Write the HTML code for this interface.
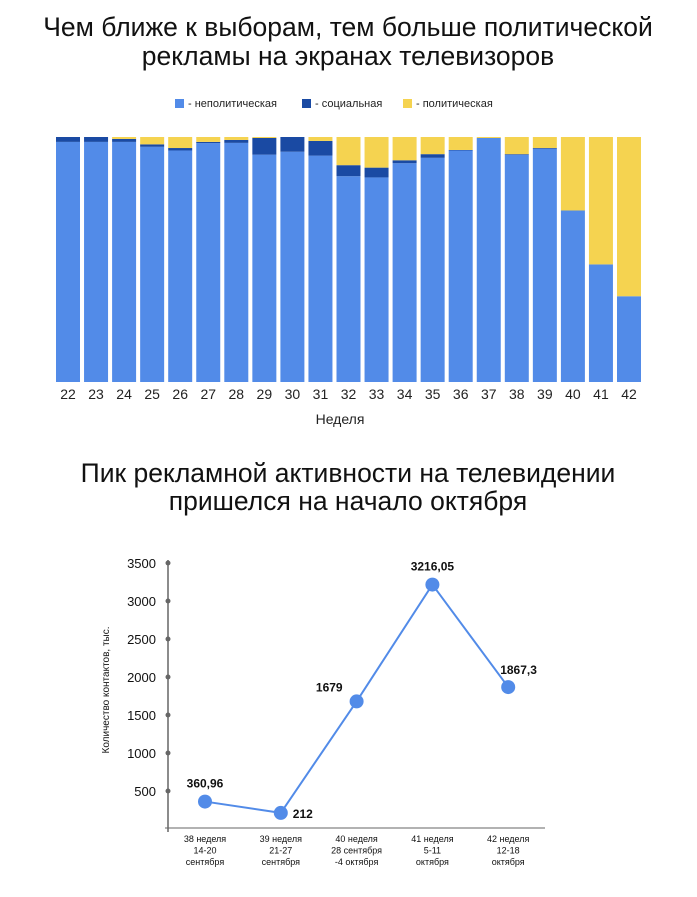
<!DOCTYPE html>
<html><head><meta charset="utf-8"><style>
body{margin:0;background:#fff;font-family:"Liberation Sans","DejaVu Sans",sans-serif;}
svg text{font-family:"Liberation Sans","DejaVu Sans",sans-serif;}
</style></head><body>
<svg id="c" width="697" height="892">
<text x="348" y="36" font-size="26.5" text-anchor="middle" fill="#111">Чем ближе к выборам, тем больше политической</text>
<text x="348" y="65" font-size="26.5" text-anchor="middle" fill="#111">рекламы на экранах телевизоров</text>
<g id="legend">
<rect x="175" y="99" width="9" height="9" fill="#528BE8"/>
<text x="188" y="107" font-size="11" fill="#222">- неполитическая</text>
<rect x="302" y="99" width="9" height="9" fill="#1A4AA3"/>
<text x="315" y="107" font-size="11" fill="#222">- социальная</text>
<rect x="403" y="99" width="9" height="9" fill="#F5D350"/>
<text x="416" y="107" font-size="11" fill="#222">- политическая</text>
</g>
<g id="bars"></g>
<text x="340" y="424" font-size="14" text-anchor="middle" fill="#222">Неделя</text>
<text x="348" y="482" font-size="26.5" text-anchor="middle" fill="#111">Пик рекламной активности на телевидении</text>
<text x="348" y="510" font-size="26.5" text-anchor="middle" fill="#111">пришелся на начало октября</text>
<g id="line"></g>
<text transform="translate(109,690) rotate(-90)" font-size="10" text-anchor="middle" fill="#111">Количество контактов, тыс.</text>
</svg>
<script>
const weeks=[22,23,24,25,26,27,28,29,30,31,32,33,34,35,36,37,38,39,40,41,42];
const political=[0,0,0.8,3,4.5,2,1.2,0.4,0,1.6,11.5,12.5,9.5,7,5.3,0.4,7,4.5,30,52,65];
const social=[2,2,1.2,1,1,0.5,1.2,6.8,6,6,4.5,4,1.2,1.5,0.2,0,0.3,0.3,0,0,0];
const lineCats=[["38 неделя","14-20","сентября"],["39 неделя","21-27","сентября"],["40 неделя","28 сентября","-4 октября"],["41 неделя","5-11","октября"],["42 неделя","12-18","октября"]];
const lineVals=[360.96,212,1679,3216.05,1867.3];
const lineLabels=["360,96","212","1679","3216,05","1867,3"];
const yTicks=[500,1000,1500,2000,2500,3000,3500];
const NS="http://www.w3.org/2000/svg";
function mk(t,a,p){const e=document.createElementNS(NS,t);for(const k in a)e.setAttribute(k,a[k]);p.appendChild(e);return e;}
const bg=document.getElementById('bars');
const top0=137,bot0=382,H=bot0-top0;
const bx=i=>56+i*28.05;
const py=p=>top0+p/100*H;
weeks.forEach((w,i)=>{
 const x=bx(i);
 const yP=py(political[i]),yS=py(political[i]+social[i]);
 let r=mk('rect',{x:x,y:yS,width:24,height:bot0-yS,fill:'#528BE8'},bg);
 
 
 r=mk('rect',{x:x,y:yP,width:24,height:yS-yP,fill:'#1A4AA3'},bg);
 
 
 r=mk('rect',{x:x,y:top0,width:24,height:yP-top0,fill:'#F5D350'},bg);
 
 
 const t=mk('text',{x:x+12,y:399,'font-size':14,'text-anchor':'middle',fill:'#222'},bg);
 t.textContent=w;
 
 
});
const lg=document.getElementById('line');
const ly=v=>829-v*(266/3500);
const lx=i=>205+i*75.8;
let ax=mk('line',{x1:168,y1:560,x2:168,y2:832,stroke:'#666','stroke-width':1.5},lg);


ax=mk('line',{x1:165,y1:828,x2:545,y2:828,stroke:'#666','stroke-width':1},lg);


yTicks.forEach(v=>{
 const c=mk('circle',{cx:168,cy:ly(v),r:2.5,fill:'#666'},lg);
 
 
 const t=mk('text',{x:156,y:ly(v)+5,'font-size':13,'text-anchor':'end',fill:'#111'},lg);
 t.textContent=v;
 
 
});
const pl=mk('polyline',{points:lineVals.map((v,i)=>lx(i)+','+ly(v)).join(' '),fill:'none',stroke:'#528BE8','stroke-width':2},lg);


const offs=[[0,-14,'middle'],[12,5,'start'],[-14,-10,'end'],[0,-14,'middle'],[-8,-13,'start']];
lineVals.forEach((v,i)=>{
 const c=mk('circle',{cx:lx(i),cy:ly(v),r:7,fill:'#528BE8'},lg);
 
 
 const o=offs[i];
 const t=mk('text',{x:lx(i)+o[0],y:ly(v)+o[1],'font-size':12,'font-weight':'bold','text-anchor':o[2],fill:'#111'},lg);
 t.textContent=lineLabels[i];
 
 
 lineCats[i].forEach((s,j)=>{
  const tt=mk('text',{x:lx(i),y:842+j*11.5,'font-size':9,'text-anchor':'middle',fill:'#111'},lg);
  tt.textContent=s;
  
  
 });
});
</script>
</body></html>
